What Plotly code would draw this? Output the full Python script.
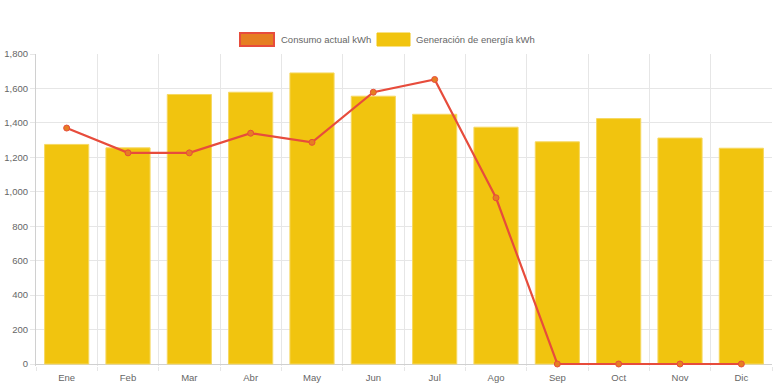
import plotly.graph_objects as go

months = ["Ene", "Feb", "Mar", "Abr", "May", "Jun", "Jul", "Ago", "Sep", "Oct", "Nov", "Dic"]
generacion = [1275, 1255, 1565, 1578, 1690, 1555, 1450, 1375, 1290, 1425, 1312, 1253]
consumo = [1370, 1226, 1226, 1340, 1287, 1578, 1652, 965, 0, 0, 0, 0]
y_ticks = [0, 200, 400, 600, 800, 1000, 1200, 1400, 1600, 1800]
legend_names = ["Consumo actual kWh", "Generación de energía kWh"]

idx = list(range(len(months)))
FONT = "Liberation Sans, Arial, Helvetica, sans-serif"
TXT = "#666666"
GRID = "#e6e6e6"

W, H = 776, 388
L, R, T, B = 36, 4, 54, 22
pw, ph = W - L - R, H - T - B

def px(x):
    return (x - L) / pw

def py(y):
    return (H - B - y) / ph

fig = go.Figure()
fig.add_trace(go.Bar(
    x=idx, y=generacion, name=legend_names[1], width=0.72,
    marker=dict(color="#f1c40f", line=dict(color="#f6d860", width=1)),
    showlegend=False,
))
fig.add_trace(go.Scatter(
    x=idx, y=consumo, name=legend_names[0], mode="lines+markers",
    line=dict(color="#e74c3c", width=2.2),
    marker=dict(color="#e67e22", size=6, line=dict(color="#e74c3c", width=1)),
    cliponaxis=False,
    showlegend=False,
))

shapes = [
    dict(type="rect", xref="paper", yref="paper", x0=px(240), x1=px(274), y0=py(46), y1=py(33),
         fillcolor="#e67e22", line=dict(color="#e74c3c", width=2)),
    dict(type="rect", xref="paper", yref="paper", x0=px(377), x1=px(410), y0=py(46), y1=py(33),
         fillcolor="#f1c40f", line=dict(color="#f1c40f", width=1)),
]
annotations = [
    dict(xref="paper", yref="paper", x=px(279), y=py(39.5), text=legend_names[0], showarrow=False,
         xanchor="left", yanchor="middle", font=dict(size=9.5, color=TXT, family=FONT)),
    dict(xref="paper", yref="paper", x=px(414), y=py(39.5), text=legend_names[1], showarrow=False,
         xanchor="left", yanchor="middle", font=dict(size=9.5, color=TXT, family=FONT)),
]

fig.update_layout(
    width=W, height=H,
    margin=dict(l=L, r=R, t=T, b=B),
    paper_bgcolor="white", plot_bgcolor="white",
    font=dict(family=FONT, size=9.5, color=TXT),
    showlegend=False,
    shapes=shapes, annotations=annotations,
    xaxis=dict(
        range=[-0.5, len(months) - 0.5],
        tickmode="array", tickvals=idx, ticktext=months,
        showgrid=False, ticks="", zeroline=False, automargin=False,
        ticklabelstandoff=4, layer="below traces",
        showline=False,
        minor=dict(tickmode="array", tickvals=[i - 0.5 for i in range(len(months) + 1)],
                   showgrid=True, gridcolor=GRID, gridwidth=1,
                   ticks="outside", ticklen=4, tickcolor=GRID),
        tickfont=dict(size=9.5, color=TXT),
        fixedrange=True,
    ),
    yaxis=dict(
        range=[-11.6, 1800],
        tickmode="array", tickvals=y_ticks, tickformat=",d",
        showgrid=True, gridcolor=GRID, gridwidth=1,
        ticks="outside", ticklen=5, tickcolor=GRID, automargin=False,
        zeroline=True, zerolinecolor="#d0d0d0", zerolinewidth=1,
        layer="below traces",
        showline=True, linecolor="#d0d0d0", linewidth=1,
        tickfont=dict(size=9.5, color=TXT),
        fixedrange=True,
    ),
)

fig.write_html(
    "out.html",
    config={"displayModeBar": False},
    post_script="document.body.style.margin='0';document.body.style.overflow='hidden';",
)
